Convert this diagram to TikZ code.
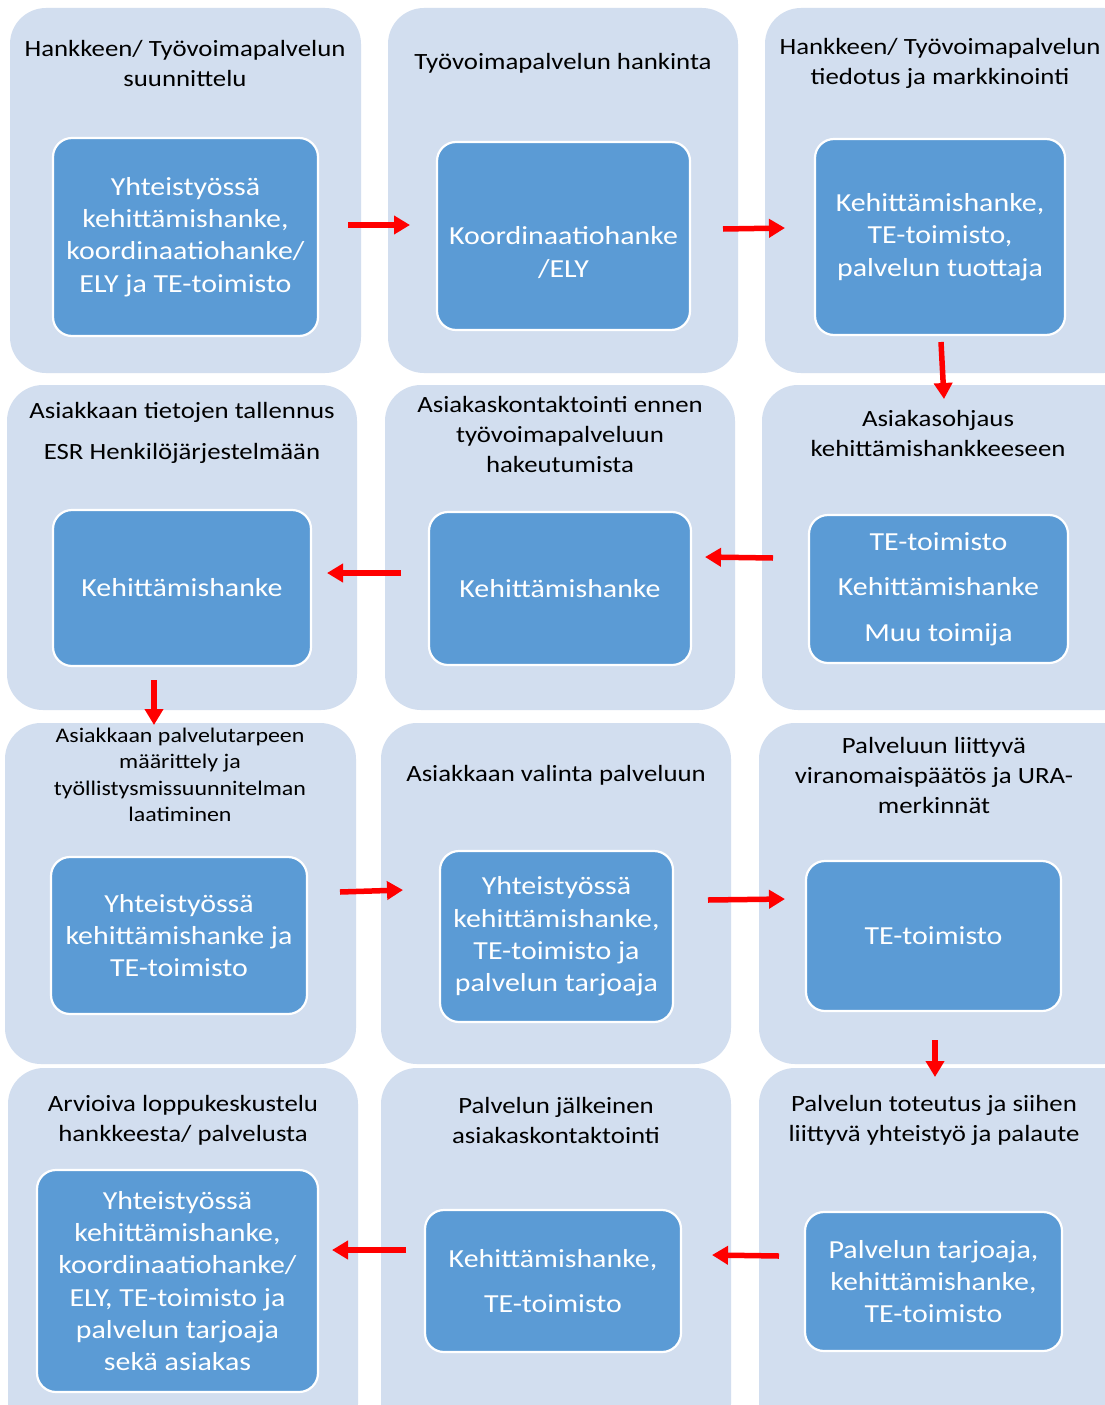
\documentclass[tikz,border=0pt]{standalone}
\usepackage{fontspec}
\setmainfont{Carlito}[FakeStretch=1.15]
\usetikzlibrary{fit,arrows.meta}
\definecolor{outerc}{HTML}{D2DEEF}
\definecolor{innerc}{HTML}{5B9BD5}
\definecolor{arrowc}{HTML}{FF0000}
\tikzset{
  outerbox/.style={rectangle, fill=outerc, rounded corners=36pt, inner sep=0pt, outer sep=0pt},
  innerbox/.style={rectangle, fill=innerc, draw=white, line width=2.2pt, rounded corners=19pt, inner sep=0pt, outer sep=0pt,
    text=white, align=center, font=\fontsize{26}{32.3}\selectfont},
  titletext/.style={align=center, text=black, inner sep=0pt, font=\fontsize{23.3}{30}\selectfont},
  smalltitle/.style={align=center, text=black, inner sep=0pt, font=\fontsize{20.8}{26.5}\selectfont},
  flowarrow/.style={draw=arrowc, line width=5.5pt, -{Triangle[width=18pt,length=16pt]}}
}
\begin{document}
\begin{tikzpicture}[x=1pt,y=-1pt]
\path[use as bounding box, fill=white] (0,0) rectangle (1105,1405);
\clip (0,0) rectangle (1105,1405);
% outer boxes
\node[outerbox, fit={(10,8) (361,373)}] (o11) {};
\node[outerbox, fit={(388,8) (738,373)}] (o12) {};
\node[outerbox, fit={(765,8) (1140,373)}] (o13) {};
\node[outerbox, fit={(7,385) (357,710)}] (o21) {};
\node[outerbox, fit={(385,385) (735,710)}] (o22) {};
\node[outerbox, fit={(762,385) (1140,710)}] (o23) {};
\node[outerbox, fit={(5,723) (356,1064)}] (o31) {};
\node[outerbox, fit={(381,723) (731,1064)}] (o32) {};
\node[outerbox, fit={(759,723) (1140,1064)}] (o33) {};
\node[outerbox, fit={(8,1068) (358,1440)}] (o41) {};
\node[outerbox, fit={(381,1068) (731,1440)}] (o42) {};
\node[outerbox, fit={(759,1068) (1140,1440)}] (o43) {};
% titles
\node[titletext] (t11) at (185,63) {Hankkeen/ Työvoimapalvelun\\suunnittelu};
\node[titletext] (t12) at (563,63) {Työvoimapalvelun hankinta};
\node[titletext] (t13) at (940,63) {Hankkeen/ Työvoimapalvelun\\tiedotus ja markkinointi};
\node[titletext] (t21) at (182,433) {Asiakkaan tietojen tallennus\\[11pt]ESR Henkilöjärjestelmään};
\node[titletext] (t22) at (560,434) {Asiakaskontaktointi ennen\\työvoimapalveluun\\hakeutumista};
\node[titletext] (t23) at (938,433) {Asiakasohjaus\\kehittämishankkeeseen};
\node[smalltitle] (t31) at (180,775) {Asiakkaan palvelutarpeen\\määrittely ja\\työllistysmissuunnitelman\\laatiminen};
\node[titletext] (t32) at (556,775) {Asiakkaan valinta palveluun};
\node[titletext] (t33) at (934,775) {Palveluun liittyvä\\viranomaispäätös ja URA-\\merkinnät};
\node[titletext] (t41) at (183,1120) {Arvioiva loppukeskustelu\\hankkeesta/ palvelusta};
\node[titletext] (t42) at (556,1120) {Palvelun jälkeinen\\asiakaskontaktointi};
\node[titletext] (t43) at (934,1120) {Palvelun toteutus ja siihen\\liittyvä yhteistyö ja palaute};
% inner boxes
\node[innerbox, minimum width=265pt, minimum height=198pt] (i11) at (185.5,237) {Yhteistyössä\\kehittämishanke,\\koordinaatiohanke/\\ELY ja TE-toimisto};
\node[innerbox, minimum width=253pt, minimum height=188pt] (i12) at (563.5,236) {\rule{0pt}{51pt}Koordinaatiohanke\\/ELY};
\node[innerbox, minimum width=250pt, minimum height=196pt] (i13) at (940,237) {Kehittämishanke,\\TE-toimisto,\\palvelun tuottaja};
\node[innerbox, minimum width=258pt, minimum height=156pt] (i21) at (182,588) {Kehittämishanke};
\node[innerbox, minimum width=262pt, minimum height=153pt] (i22) at (560,588.5) {Kehittämishanke};
\node[innerbox, minimum width=259pt, minimum height=148pt] (i23) at (938.5,589) {TE-toimisto\\[13pt]Kehittämishanke\\[13pt]Muu toimija};
\node[innerbox, minimum width=256pt, minimum height=157pt] (i31) at (179,935.5) {Yhteistyössä\\kehittämishanke ja\\TE-toimisto};
\node[innerbox, minimum width=233pt, minimum height=171pt] (i32) at (556.5,936.5) {Yhteistyössä\\kehittämishanke,\\TE-toimisto ja\\palvelun tarjoaja};
\node[innerbox, minimum width=255pt, minimum height=150pt] (i33) at (933.5,936) {TE-toimisto};
\node[innerbox, minimum width=281pt, minimum height=222pt] (i41) at (177.5,1281) {Yhteistyössä\\kehittämishanke,\\koordinaatiohanke/\\ELY, TE-toimisto ja\\palvelun tarjoaja\\sekä asiakas};
\node[innerbox, minimum width=256pt, minimum height=142pt] (i42) at (553,1281) {Kehittämishanke,\\[13pt]TE-toimisto};
\node[innerbox, minimum width=257pt, minimum height=139pt] (i43) at (933.5,1281.5) {Palvelun tarjoaja,\\kehittämishanke,\\TE-toimisto};
% arrow end points
\coordinate (a1s) at (348,225);  \coordinate (a1e) at (410,225);
\coordinate (a2s) at (723,229);  \coordinate (a2e) at (785,228);
\coordinate (a3s) at (941,342);  \coordinate (a3e) at (944,399);
\coordinate (a4s) at (773,558);  \coordinate (a4e) at (705,557);
\coordinate (a5s) at (401,573);  \coordinate (a5e) at (327,573);
\coordinate (a6s) at (154,680);  \coordinate (a6e) at (154,725);
\coordinate (a7s) at (340,892);  \coordinate (a7e) at (403,890);
\coordinate (a8s) at (708,900);  \coordinate (a8e) at (785,899);
\coordinate (a9s) at (935,1040); \coordinate (a9e) at (935,1077);
\coordinate (a10s) at (779,1256); \coordinate (a10e) at (712,1255);
\coordinate (a11s) at (406,1250); \coordinate (a11e) at (332,1250);
\foreach \k in {1,...,11} { \draw[flowarrow] (a\k s) -- (a\k e); }
\end{tikzpicture}
\end{document}
